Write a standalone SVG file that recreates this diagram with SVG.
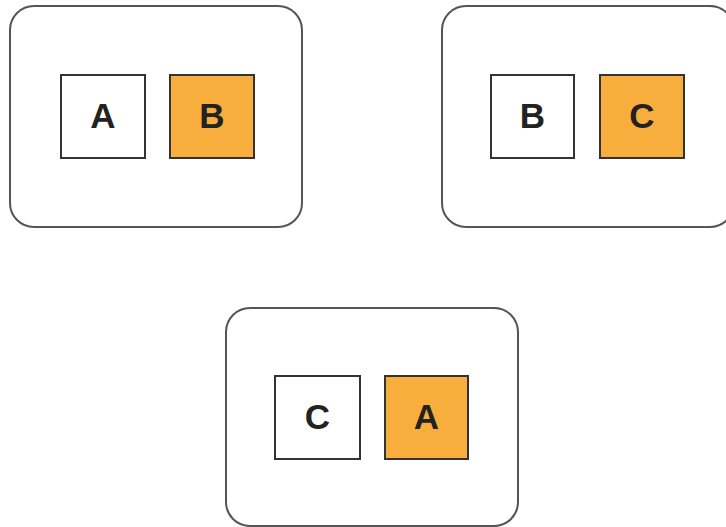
<svg xmlns="http://www.w3.org/2000/svg" width="726" height="527" viewBox="0 0 726 527">
<style>
.outer{fill:#fff;stroke:#555;stroke-width:2}
.cell{stroke:#333;stroke-width:2}
.w{fill:#fff}
.o{fill:#F8AE3C}
text{font-family:"Liberation Sans",Arial,sans-serif;font-weight:bold;font-size:35px;fill:#222;text-anchor:middle}
</style>
<rect width="726" height="527" fill="#fff"/>
<g id="group1">
<rect class="outer" x="10" y="6" width="292" height="221" rx="24"/>
<g id="g1a"><rect class="cell w" x="61" y="75" width="84" height="83"/><text x="103" y="128">A</text></g>
<g id="g1b"><rect class="cell o" x="170" y="75" width="84" height="83"/><text x="212" y="128">B</text></g>
</g>
<g id="group2">
<rect class="outer" x="442" y="6" width="292" height="221" rx="24"/>
<g id="g2b"><rect class="cell w" x="491" y="75" width="83" height="83"/><text x="532.5" y="128">B</text></g>
<g id="g2c"><rect class="cell o" x="600" y="75" width="84" height="83"/><text x="642" y="128">C</text></g>
</g>
<g id="group3">
<rect class="outer" x="226" y="308" width="292" height="218" rx="24"/>
<g id="g3c"><rect class="cell w" x="275" y="376" width="85" height="83"/><text x="317.5" y="429">C</text></g>
<g id="g3a"><rect class="cell o" x="385" y="376" width="83" height="83"/><text x="426.5" y="429">A</text></g>
</g>
<g id="connectors"></g>
</svg>
